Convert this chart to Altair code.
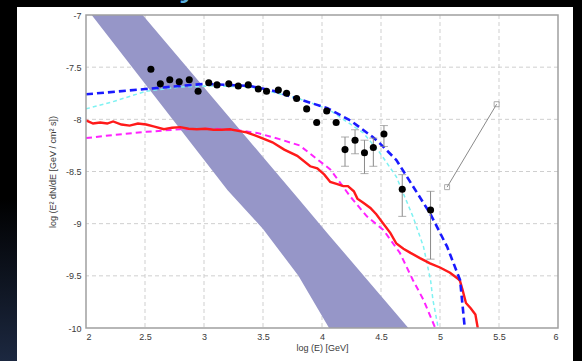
import altair as alt
import pandas as pd

# ---------------- data ----------------
x_ticks = [2, 2.5, 3, 3.5, 4, 4.5, 5, 5.5, 6]
y_ticks = [-10, -9.5, -9, -8.5, -8, -7.5, -7]
x_grid = [2.5, 3, 3.5, 4, 4.5, 5, 5.5]
y_grid = [-9.5, -9, -8.5, -8, -7.5]

# shaded band (upper / lower edge vs x)
band_x = [2.0, 3.2, 3.5, 3.8, 4.06, 4.8]
band_hi = [-6.36, -7.96, -8.36, -8.76, -9.11, -10.09]
band_lo = [-6.93, -8.68, -9.05, -9.50, -10.0, -11.1]

# data points without error bars
pts_x = [2.55, 2.63, 2.71, 2.79, 2.875, 2.95, 3.04, 3.11, 3.21, 3.29, 3.375,
         3.46, 3.53, 3.63, 3.70, 3.785, 3.87, 3.955, 4.04, 4.12]
pts_y = [-7.52, -7.66, -7.62, -7.64, -7.62, -7.73, -7.65, -7.67, -7.66, -7.68,
         -7.67, -7.71, -7.73, -7.72, -7.75, -7.80, -7.90, -8.03, -7.92, -8.03]

# data points with error bars
err_x = [4.195, 4.28, 4.36, 4.435, 4.525, 4.68, 4.92]
err_y = [-8.29, -8.20, -8.32, -8.27, -8.14, -8.67, -8.87]
err_lo = [-8.45, -8.33, -8.52, -8.45, -8.26, -8.93, -9.34]
err_hi = [-8.17, -8.10, -8.20, -8.18, -8.06, -8.53, -8.69]

# grey segment with open squares
sq_x = [5.06, 5.48]
sq_y = [-8.65, -7.855]

blue_x = [2.0, 2.5, 3.0, 3.39, 3.6, 3.785, 4.04, 4.24, 4.43, 4.49, 4.63, 4.77,
          4.915, 5.06, 5.17, 5.21]
blue_y = [-7.76, -7.71, -7.66, -7.68, -7.73, -7.80, -7.89, -8.01, -8.17, -8.23,
          -8.39, -8.64, -8.90, -9.22, -9.54, -10.0]

cyan_x = [2.0, 2.23, 2.51, 2.80, 3.08, 3.4, 3.8, 4.05, 4.35, 4.49, 4.63, 4.77,
          4.86, 4.92, 4.94, 4.985]
cyan_y = [-7.90, -7.83, -7.73, -7.69, -7.68, -7.69, -7.80, -7.90, -8.13, -8.32,
          -8.55, -8.93, -9.22, -9.54, -9.73, -10.0]

magenta_x = [2.0, 2.23, 2.51, 2.80, 3.08, 3.25, 3.45, 3.64, 3.81, 4.07, 4.24,
             4.38, 4.52, 4.66, 4.77, 4.86, 4.96]
magenta_y = [-8.18, -8.15, -8.12, -8.095, -8.09, -8.10, -8.13, -8.19, -8.25,
             -8.48, -8.74, -8.93, -9.06, -9.28, -9.54, -9.73, -10.0]

red_x = [2.0, 2.06, 2.12, 2.18, 2.23, 2.3, 2.37, 2.44, 2.51, 2.58, 2.66, 2.73,
         2.80, 2.87, 2.94, 3.01, 3.08, 3.15, 3.22, 3.29, 3.36, 3.47, 3.58, 3.68,
         3.79, 3.90, 3.96, 4.02, 4.07, 4.13, 4.18, 4.22, 4.27, 4.30, 4.35, 4.41,
         4.46, 4.52, 4.58, 4.63, 4.69, 4.75, 4.83, 4.915, 5.0, 5.085, 5.155,
         5.17, 5.19, 5.22, 5.26, 5.30, 5.32]
red_y = [-8.01, -8.04, -8.03, -8.04, -8.02, -8.05, -8.06, -8.04, -8.05, -8.07,
         -8.095, -8.08, -8.075, -8.09, -8.095, -8.09, -8.10, -8.10, -8.095,
         -8.11, -8.125, -8.17, -8.22, -8.29, -8.35, -8.45, -8.47, -8.53, -8.60,
         -8.62, -8.64, -8.64, -8.69, -8.76, -8.80, -8.85, -8.91, -9.00, -9.09,
         -9.19, -9.24, -9.28, -9.33, -9.38, -9.42, -9.47, -9.53, -9.55, -9.63,
         -9.76, -9.81, -9.87, -10.0]

# ---------------- chart ----------------
W, H = 472, 313
FONT = "Liberation Sans"

xs = alt.Scale(domain=[2, 6], nice=False, zero=False)
ys = alt.Scale(domain=[-10, -7], nice=False, zero=False)

x_axis = alt.Axis(values=x_ticks, title="log (E) [GeV]", grid=False, domain=False,
                  ticks=False, labelPadding=4, titlePadding=2,
                  labelExpr="toString(datum.value)", zindex=1)
y_axis = alt.Axis(values=y_ticks, title="log (E² dN/dE [GeV / cm² s])", grid=False,
                  domain=False, ticks=False, labelPadding=5, titlePadding=8,
                  labelExpr="toString(datum.value)", zindex=1)


def X(field="x"):
    return alt.X(f"{field}:Q", scale=xs, axis=x_axis)


def Y(field="y"):
    return alt.Y(f"{field}:Q", scale=ys, axis=y_axis)


one = alt.Data(values=[{"a": 1}])

white_bg = alt.Chart(one).mark_rect(color="white").encode(
    x=alt.value(-69), x2=alt.value(487), y=alt.value(-8), y2=alt.value(346))

left_strip = alt.Chart(one).mark_rect(
    color=alt.Gradient(gradient="linear",
                       stops=[alt.GradientStop(color="#000000", offset=0),
                              alt.GradientStop(color="#000000", offset=0.55),
                              alt.GradientStop(color="#1c2840", offset=1)],
                       x1=0, x2=0, y1=0, y2=1)
).encode(x=alt.value(-86), x2=alt.value(-69), y=alt.value(-15), y2=alt.value(346))

# descender of the slide title that is cut off at the top
title_tail = alt.Chart(one).mark_text(
    text="y", font="Open Sans", fontSize=34, color="#5ab0e0", align="center",
    baseline="alphabetic").encode(x=alt.value(103), y=alt.value(-20))

gx = alt.Chart(pd.DataFrame({"x": x_grid})).mark_rule(
    color="#cfcfcf", strokeDash=[4, 3], strokeWidth=1).encode(x=X())
gy = alt.Chart(pd.DataFrame({"y": y_grid})).mark_rule(
    color="#cfcfcf", strokeDash=[4, 3], strokeWidth=1).encode(y=Y())

band = alt.Chart(pd.DataFrame({"x": band_x, "hi": band_hi, "lo": band_lo})).mark_area(
    color="#9696c8", opacity=1, clip=True).encode(
    x=X(), y=Y("hi"), y2="lo:Q")


def curve(xv, yv, color, width, dash=None):
    kw = dict(color=color, strokeWidth=width, clip=True)
    if dash:
        kw["strokeDash"] = dash
    return alt.Chart(pd.DataFrame({"x": xv, "y": yv})).mark_line(**kw).encode(
        x=X(), y=Y(), order="x:Q")


red = curve(red_x, red_y, "#ff1a1a", 2.4)
magenta = curve(magenta_x, magenta_y, "#ff22ff", 2.0, [6, 4])
cyan = curve(cyan_x, cyan_y, "#7ff2f2", 1.5, [4, 3])
blue = curve(blue_x, blue_y, "#1a1aff", 2.6, [7, 4])

err_df = pd.DataFrame({"x": err_x, "y": err_y, "lo": err_lo, "hi": err_hi})
ebars = alt.Chart(err_df).mark_rule(color="#8a8a8a", strokeWidth=1).encode(
    x=X(), y=Y("lo"), y2="hi:Q")
caps_df = pd.DataFrame({"x": err_x + err_x, "y": err_lo + err_hi})
caps = alt.Chart(caps_df).mark_tick(color="#8a8a8a", orient="horizontal",
                                    size=8, thickness=1).encode(x=X(), y=Y())

all_px = pts_x + err_x
all_py = pts_y + err_y
points = alt.Chart(pd.DataFrame({"x": all_px, "y": all_py})).mark_circle(
    color="black", size=50, opacity=1).encode(x=X(), y=Y())

sq_df = pd.DataFrame({"x": sq_x, "y": sq_y})
seg = alt.Chart(sq_df).mark_line(color="#8a8a8a", strokeWidth=1).encode(x=X(), y=Y())
squares = alt.Chart(sq_df).mark_square(filled=False, color="#8a8a8a", size=25,
                                       strokeWidth=1).encode(x=X(), y=Y())

frame = alt.Chart(pd.DataFrame({"x": [2], "x2": [6], "y": [-10], "y2": [-7]})).mark_rect(
    fillOpacity=0, stroke="#a0a0a0", strokeWidth=1.5).encode(
    x=X(), x2="x2:Q", y=Y(), y2="y2:Q")

chart = alt.layer(
    white_bg, left_strip, title_tail, gx, gy, band, magenta, cyan, red, blue,
    ebars, caps, points, seg, squares, frame
).properties(
    width=W, height=H,
    background="black",
    padding={"left": 86, "top": 15, "right": 24, "bottom": 33},
    autosize=alt.AutoSizeParams(type="none"),
).configure_view(stroke=None).configure_axis(
    labelFont=FONT, titleFont=FONT, labelFontSize=9, titleFontSize=9,
    labelColor="#3a3a3a", titleColor="#3a3a3a", titleFontWeight="normal"
)

chart.save("out.html", embed_options={"renderer": "svg", "actions": False})
